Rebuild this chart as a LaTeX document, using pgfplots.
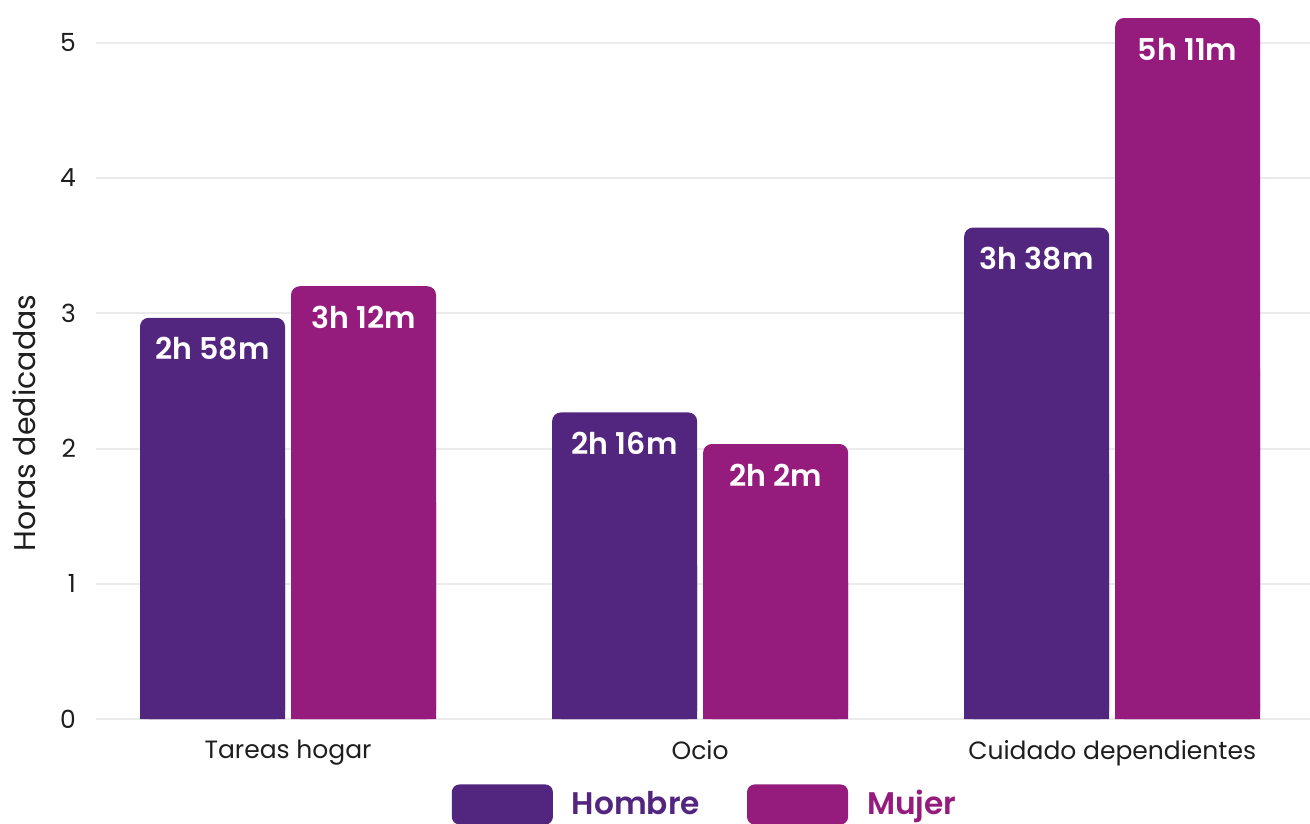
\documentclass[border=0pt]{standalone}
\usepackage{pgfplots}
\pgfplotsset{compat=1.18}
\usepackage{pgfplotstable}
\usepackage{fontspec}
\setmainfont{Poppins}[BoldFont={Poppins SemiBold}]

\definecolor{hombre}{HTML}{52257F}
\definecolor{mujer}{HTML}{951B7D}
\definecolor{gridc}{HTML}{EBEBEB}
\definecolor{txt}{HTML}{1E1E1E}

% horas (decimal) y etiquetas
\pgfplotstableread[col sep=comma,row sep=\\]{
x,hombre,mujer,lh,lm\\
0,2.9667,3.2,2h 58m,3h 12m\\
1,2.2667,2.0333,2h 16m,2h 2m\\
2,3.6333,5.1833,3h 38m,5h 11m\\
}\datos

\begin{document}
\begin{tikzpicture}
\useasboundingbox (-38.4pt,-41.6pt) rectangle (485.6pt,287.6pt);
\begin{axis}[
  at={(0pt,0pt)}, anchor=south west,
  scale only axis, width=485.6pt, height=284pt,
  xmin=-0.466, xmax=2.48, ymin=0, ymax=5.25,
  ybar, bar width=58pt,
  axis line style={draw=none}, major tick length=0pt,
  ymajorgrids, grid style={gridc, line width=0.8pt},
  ytick={0,1,2,3,4,5}, xtick={0,1,2},
  xticklabels={Tareas hogar,Ocio,Cuidado dependientes},
  /pgf/number format/assume math mode=true,
  ticklabel style={font=\fontsize{10}{12}\selectfont, text=txt},
  yticklabel style={xshift=-4.5pt},
  xticklabel style={yshift=-5pt},
  ylabel={Horas dedicadas},
  ylabel style={font=\fontsize{12}{14}\selectfont, text=txt, at={(axis description cs:-0.0593,0.417)}, anchor=center},
  legend columns=2,
  legend style={draw=none, fill=none, inner sep=0pt, at={(0.503,-0.0915)}, anchor=north,
    font=\bfseries\fontsize{12.5}{14}\selectfont,
    /tikz/every even column/.append style={column sep=16.8pt}},
  every node near coord/.append style={font=\bfseries\fontsize{12}{13}\selectfont, text=white, anchor=center, yshift=-12.4pt},
]
% mitad inferior sin redondear (esquinas de la base rectas)
\addplot[fill=hombre, draw=none, bar shift=-30.2pt, forget plot] table[x=x, y expr=\thisrow{hombre}/2]{\datos};
\addplot[fill=mujer, draw=none, bar shift=30.2pt, forget plot] table[x=x, y expr=\thisrow{mujer}/2]{\datos};

\addplot[fill=hombre, draw=none, rounded corners=3.5pt, bar shift=-30.2pt,
  nodes near coords, point meta=explicit symbolic,
  legend image code/.code={\fill[hombre, rounded corners=3pt] (0pt,-8pt) rectangle (40.4pt,8pt); \path (46pt,0pt);}]
  table[x=x, y=hombre, meta=lh]{\datos};
\addlegendentry{\textcolor{hombre}{Hombre}}
\addplot[fill=mujer, draw=none, rounded corners=3.5pt, bar shift=30.2pt,
  nodes near coords, point meta=explicit symbolic,
  legend image code/.code={\fill[mujer, rounded corners=3pt] (0pt,-8pt) rectangle (40.4pt,8pt); \path (46pt,0pt);}]
  table[x=x, y=mujer, meta=lm]{\datos};
\addlegendentry{\textcolor{mujer}{Mujer}}
\end{axis}
\end{tikzpicture}
\end{document}
